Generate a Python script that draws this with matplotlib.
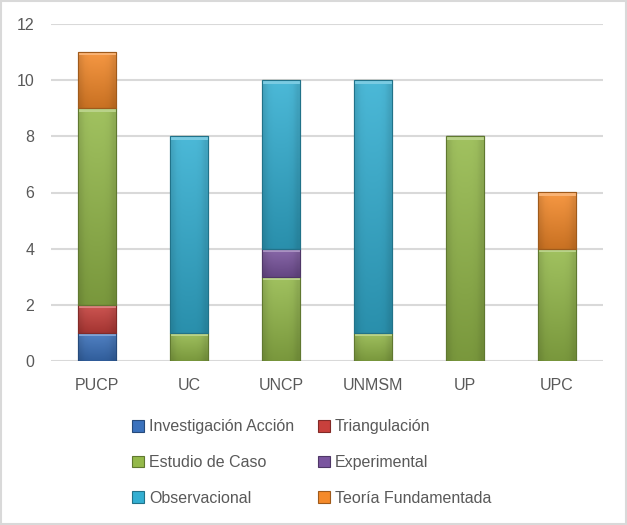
import numpy as np
import matplotlib
matplotlib.use("Agg")
import matplotlib.pyplot as plt
from matplotlib.colors import to_rgb
from matplotlib.patches import Rectangle

plt.rcParams["font.family"] = ["Liberation Sans", "DejaVu Sans"]

# Data
universidades = ["PUCP", "UC", "UNCP", "UNMSM", "UP", "UPC"]
series = ["Investigación Acción", "Triangulación", "Estudio de Caso",
          "Experimental", "Observacional", "Teoría Fundamentada"]
investigacion_accion = [1, 0, 0, 0, 0, 0]
triangulacion = [1, 0, 0, 0, 0, 0]
estudio_caso = [7, 1, 3, 1, 8, 4]
experimental = [0, 0, 1, 0, 0, 0]
observacional = [0, 7, 6, 9, 0, 0]
teoria_fundamentada = [2, 0, 0, 0, 0, 2]
valores = [investigacion_accion, triangulacion, estudio_caso,
           experimental, observacional, teoria_fundamentada]
colores = ["#3B72BD", "#C8403C", "#94B94A", "#7A559F", "#33AFD2", "#F58A2A"]


def shade(c, f):
    r = np.array(to_rgb(c))
    if f > 0:
        return r + (1 - r) * f
    return r * (1 + f)


fig = plt.figure(figsize=(6.27, 5.25), dpi=100)
ax = fig.add_axes([51 / 627, 1 - 361 / 525, 552 / 627, 337 / 525])

x = np.arange(len(universidades))
bottom = np.zeros(len(universidades))
for nombre, vals, col in zip(series, valores, colores):
    vals = np.array(vals, dtype=float)
    bars = ax.bar(x, vals, width=0.41, bottom=bottom, color=col,
                  edgecolor=shade(col, -0.35), linewidth=0.8, zorder=3,
                  label=nombre)
    for b, v in zip(bars, vals):
        if v == 0:
            continue
        x0, y0 = b.get_x(), b.get_y()
        w, h = b.get_width(), b.get_height()
        # vertical gradient: lighter top, darker bottom
        n = 64
        t = np.linspace(0, 1, n)[:, None]
        top = shade(col, 0.12)
        bot = shade(col, -0.18)
        img = (bot * (1 - t[..., None]) + top * t[..., None])
        img = np.repeat(img, 8, axis=1)
        # darker sides
        sx = np.linspace(-1, 1, 8)
        side = 1 - 0.10 * np.abs(sx) ** 4
        img = img * side[None, :, None]
        im = ax.imshow(np.clip(img, 0, 1), extent=[x0, x0 + w, y0, y0 + h],
                       origin="lower", aspect="auto", zorder=3.5,
                       interpolation="bilinear")
        im.set_clip_path(b)
        # bevel highlight at top
        bh = min(0.12, h * 0.2)
        ax.add_patch(Rectangle((x0, y0 + h - bh), w, bh,
                               facecolor=shade(col, 0.35), edgecolor="none",
                               zorder=3.6))
        ax.add_patch(Rectangle((x0, y0), w, h, facecolor="none",
                               edgecolor=shade(col, -0.35), linewidth=0.8,
                               zorder=3.7))
    bottom += vals

ax.set_xlim(-0.5, len(universidades) - 0.5)
ax.set_ylim(0, 12)
ax.set_yticks(range(0, 13, 2))
ax.set_xticks(x)
ax.set_xticklabels(universidades)
ax.yaxis.grid(True, color="#D9D9D9", linewidth=1.5, zorder=0)
ax.set_axisbelow(True)
for s in ax.spines.values():
    s.set_visible(False)
ax.tick_params(axis="both", length=0, labelsize=11.5, colors="#595959")
ax.tick_params(axis="x", pad=12)
ax.tick_params(axis="y", pad=12)

handles, labels = ax.get_legend_handles_labels()
orden = [0, 2, 4, 1, 3, 5]
leg = fig.legend([handles[i] for i in orden], [labels[i] for i in orden],
                 ncol=2, loc="upper left", bbox_to_anchor=(118 / 627, 1 - 405 / 525),
                 frameon=False, fontsize=11.5, handlelength=0.75,
                 handleheight=0.75, handletextpad=0.3, columnspacing=1.5,
                 labelspacing=1.3, labelcolor="#595959")

fig.patches.append(Rectangle((0.002, 0.002), 0.996, 0.996,
                             transform=fig.transFigure, fill=False,
                             edgecolor="#D9D9D9", linewidth=1.5))

fig.savefig("out.png", dpi=100)
